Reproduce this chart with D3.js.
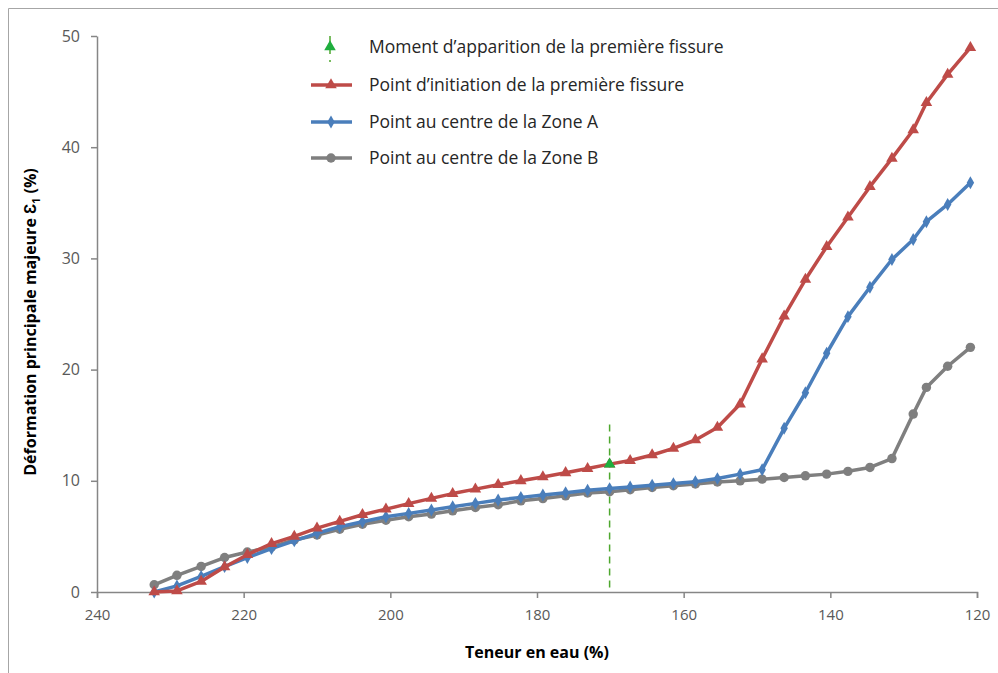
<!DOCTYPE html>
<html><head><meta charset="utf-8">
<script src="https://cdn.jsdelivr.net/npm/d3@7"></script>
<style>body{margin:0;background:#fff}svg{display:block}</style>
</head><body>
<svg id="c" width="998" height="673"></svg>
<script>
const teneur = [232.2,229.1,225.8,222.6,219.5,216.2,213.1,210.0,206.9,203.8,200.6,197.5,194.4,191.5,188.4,185.3,182.2,179.2,176.1,173.1,170.1,167.3,164.3,161.4,158.4,155.4,152.3,149.3,146.3,143.4,140.5,137.6,134.6,131.6,128.7,126.9,124.0,120.9];
const initiation = [0,0.1,0.95,2.25,3.35,4.35,5.0,5.75,6.35,6.95,7.45,7.95,8.42,8.85,9.25,9.65,10.0,10.35,10.72,11.1,11.5,11.82,12.32,12.92,13.67,14.8,16.9,20.95,24.8,28.1,31.05,33.7,36.45,39.0,41.55,44.0,46.55,48.95];
const zoneA = [0,0.55,1.4,2.28,3.1,3.9,4.6,5.28,5.87,6.32,6.77,7.07,7.37,7.67,7.97,8.27,8.51,8.72,8.93,9.15,9.3,9.45,9.6,9.75,9.92,10.2,10.6,11.0,14.72,17.92,21.47,24.76,27.4,29.9,31.7,33.3,34.85,36.8];
const zoneB = [0.65,1.5,2.3,3.1,3.6,4.05,4.68,5.13,5.64,6.1,6.45,6.77,7.01,7.3,7.6,7.85,8.2,8.4,8.65,8.9,9.02,9.2,9.4,9.56,9.71,9.9,10.0,10.15,10.3,10.45,10.6,10.85,11.2,12.0,16.0,18.4,20.3,22.0];
const fissureX = 170.1, fissureY = 11.5, fissureLine = [0.4, 15.1];
const xTicks = [240,220,200,180,160,140,120];
const yTicks = [0,10,20,30,40,50];
const legendLabels = ["Moment d\u2019apparition de la première fissure","Point d\u2019initiation de la première fissure","Point au centre de la Zone A","Point au centre de la Zone B"];
const xTitle = "Teneur en eau (%)";

const svg = d3.select("#c");
const x = d3.scaleLinear().domain([240,120]).range([97,977]);
const y = d3.scaleLinear().domain([0,50]).range([592,36]);
const font = "'Open Sans', sans-serif";

// frame
svg.append("path").attr("d","M8.5,673 V8.5 H998").attr("fill","none").attr("stroke","#a6a6a6").attr("stroke-width",1);

// axes
const axisCol = "#868686";
const gx = svg.append("g").attr("transform","translate(0,592)")
  .call(d3.axisBottom(x).tickValues(xTicks).tickSize(6).tickSizeOuter(6).tickFormat(d3.format("d")));
const gy = svg.append("g").attr("transform","translate(97,0)")
  .call(d3.axisLeft(y).tickValues(yTicks).tickSize(6).tickSizeOuter(0));
[gx,gy].forEach(g=>{
  g.selectAll("path,line").attr("stroke",axisCol).attr("stroke-width",1.5);
  g.selectAll("text").attr("fill","#595959").attr("font-family",font).attr("font-size",15);
});
gx.selectAll("text").attr("dy","1.25em");
gy.selectAll("text").attr("dx","-0.5em").attr("font-size",16);

// titles
svg.append("text").attr("x",537).attr("y",658).attr("text-anchor","middle")
  .attr("font-family",font).attr("font-size",16).attr("font-weight","bold").attr("fill","#000").text(xTitle);
const yt = svg.append("text").attr("transform","translate(36,322) rotate(-90)").attr("text-anchor","middle")
  .attr("font-family",font).attr("font-size",16).attr("font-weight","bold").attr("fill","#000");
yt.append("tspan").text("Déformation principale majeure \u0190");
yt.append("tspan").attr("font-size",11).attr("dy",4).text("1");
yt.append("tspan").attr("dy",-4).text(" (%)");

// green dashed line
svg.append("line").attr("x1",x(fissureX)).attr("x2",x(fissureX)).attr("y1",y(fissureLine[0])).attr("y2",y(fissureLine[1]))
  .attr("stroke","#4ea72e").attr("stroke-width",1.5).attr("stroke-dasharray","7,5");

const series = [
  {vals: zoneB, color:"#7f7f7f", sym:d3.symbolCircle, size:70},
  {vals: zoneA, color:"#4a7ebb", sym:d3.symbolDiamond, size:48},
  {vals: initiation, color:"#be4b48", sym:d3.symbolTriangle, size:58},
];
const line = d3.line().x(d=>x(d[0])).y(d=>y(d[1]));
series.forEach(s=>{
  const pts = teneur.map((t,i)=>[t,s.vals[i]]);
  svg.append("path").datum(pts).attr("d",line).attr("fill","none").attr("stroke",s.color)
    .attr("stroke-width",3.5).attr("stroke-linejoin","round");
  svg.append("g").selectAll("path").data(pts).join("path")
    .attr("transform",d=>`translate(${x(d[0])},${y(d[1])})`)
    .attr("d",d3.symbol().type(s.sym).size(s.size)).attr("fill",s.color);
});
// green triangle
svg.append("path").attr("transform",`translate(${x(fissureX)},${y(fissureY)})`)
  .attr("d",d3.symbol().type(d3.symbolTriangle).size(58)).attr("fill","#1fae3e");

// legend
const lg = svg.append("g");
const ly = [47,85,122,158];
lg.append("line").attr("x1",330).attr("x2",330).attr("y1",36).attr("y2",62).attr("stroke","#4ea72e").attr("stroke-width",1.5).attr("stroke-dasharray","6,6");
lg.append("path").attr("transform",`translate(330,${ly[0]})`).attr("d",d3.symbol().type(d3.symbolTriangle).size(58)).attr("fill","#1fae3e");
const legSeries = [series[2],series[1],series[0]];
legSeries.forEach((s,i)=>{
  const yy = ly[i+1];
  lg.append("line").attr("x1",311).attr("x2",352).attr("y1",yy).attr("y2",yy).attr("stroke",s.color).attr("stroke-width",3.5);
  lg.append("path").attr("transform",`translate(331,${yy})`).attr("d",d3.symbol().type(s.sym).size(s.size)).attr("fill",s.color);
});
legendLabels.forEach((t,i)=>{
  lg.append("text").attr("x",369).attr("y",ly[i]).attr("dy","0.35em").attr("font-family",font).attr("font-size",17.5).attr("fill","#262626").text(t);
});
</script>
</body></html>
